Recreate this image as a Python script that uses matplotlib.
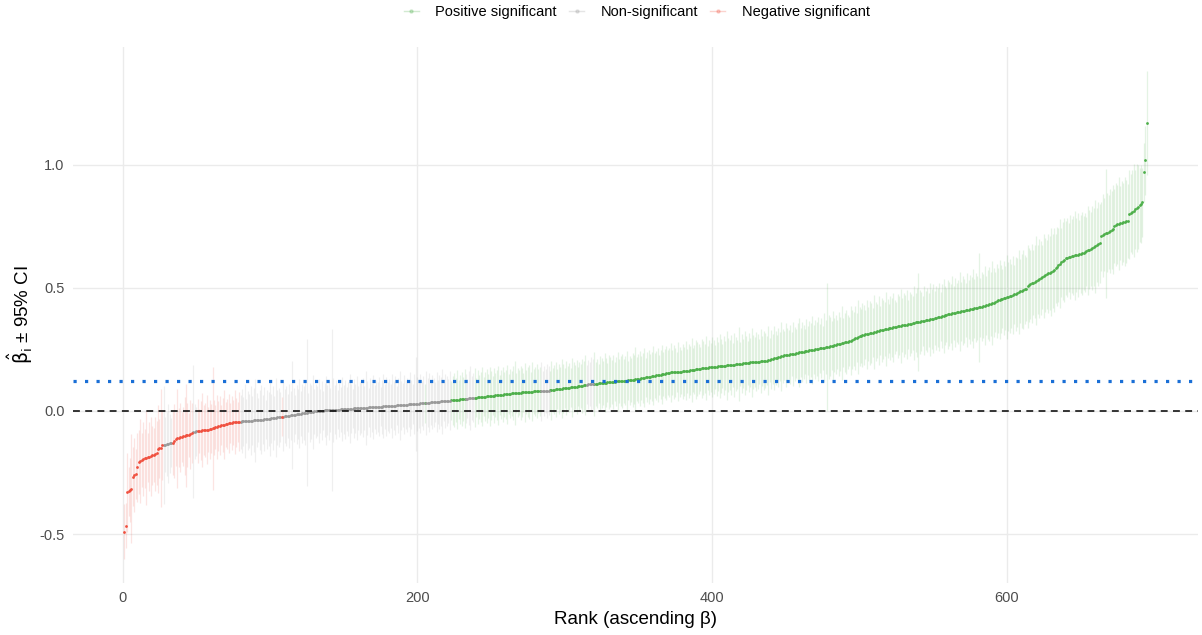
import matplotlib
matplotlib.use("Agg")
import matplotlib.pyplot as plt
from matplotlib.lines import Line2D
import numpy as np

plt.rcParams['font.family'] = ['Liberation Sans', 'DejaVu Sans']

# estimated coefficient per feature, already sorted ascending (rank 1..695)
beta = [
    -0.490, -0.466, -0.330, -0.326, -0.322, -0.316, -0.268, -0.262, -0.256, -0.230,
    -0.206, -0.203, -0.200, -0.196, -0.193, -0.191, -0.188, -0.186, -0.184, -0.181,
    -0.178, -0.176, -0.172, -0.155, -0.152, -0.150, -0.140, -0.138, -0.137, -0.135,
    -0.133, -0.131, -0.130, -0.129, -0.122, -0.115, -0.112, -0.110, -0.108, -0.106,
    -0.104, -0.102, -0.100, -0.099, -0.097, -0.095, -0.090, -0.085, -0.084, -0.083,
    -0.082, -0.081, -0.080, -0.079, -0.078, -0.077, -0.076, -0.076, -0.075, -0.073,
    -0.070, -0.068, -0.066, -0.064, -0.062, -0.060, -0.058, -0.057, -0.056, -0.055,
    -0.053, -0.051, -0.049, -0.048, -0.047, -0.047, -0.046, -0.045, -0.045, -0.044,
    -0.043, -0.043, -0.042, -0.042, -0.041, -0.041, -0.040, -0.040, -0.039, -0.039,
    -0.038, -0.038, -0.037, -0.037, -0.036, -0.035, -0.035, -0.034, -0.033, -0.032,
    -0.031, -0.030, -0.029, -0.028, -0.027, -0.026, -0.025, -0.024, -0.023, -0.022,
    -0.021, -0.020, -0.019, -0.018, -0.017, -0.016, -0.015, -0.014, -0.013, -0.012,
    -0.011, -0.010, -0.009, -0.008, -0.007, -0.006, -0.005, -0.004, -0.003, -0.002,
    -0.002, -0.001, 0.000, 0.000, 0.001, 0.001, 0.002, 0.002, 0.003, 0.003,
    0.003, 0.004, 0.004, 0.004, 0.005, 0.005, 0.005, 0.006, 0.006, 0.006,
    0.007, 0.007, 0.008, 0.008, 0.009, 0.009, 0.010, 0.010, 0.010, 0.011,
    0.011, 0.012, 0.012, 0.012, 0.013, 0.013, 0.014, 0.014, 0.015, 0.015,
    0.015, 0.016, 0.016, 0.017, 0.017, 0.017, 0.018, 0.018, 0.019, 0.019,
    0.019, 0.020, 0.020, 0.021, 0.021, 0.022, 0.022, 0.023, 0.023, 0.024,
    0.024, 0.025, 0.025, 0.026, 0.026, 0.027, 0.027, 0.028, 0.028, 0.029,
    0.029, 0.030, 0.030, 0.031, 0.031, 0.032, 0.033, 0.033, 0.034, 0.035,
    0.035, 0.036, 0.036, 0.037, 0.037, 0.038, 0.038, 0.039, 0.039, 0.040,
    0.040, 0.041, 0.042, 0.043, 0.044, 0.045, 0.046, 0.046, 0.047, 0.048,
    0.048, 0.049, 0.050, 0.050, 0.051, 0.052, 0.052, 0.053, 0.054, 0.054,
    0.055, 0.056, 0.056, 0.057, 0.058, 0.058, 0.059, 0.060, 0.060, 0.061,
    0.062, 0.062, 0.063, 0.064, 0.064, 0.065, 0.066, 0.066, 0.067, 0.067,
    0.068, 0.069, 0.070, 0.071, 0.072, 0.072, 0.073, 0.073, 0.074, 0.074,
    0.075, 0.075, 0.076, 0.076, 0.077, 0.077, 0.078, 0.078, 0.079, 0.079,
    0.079, 0.080, 0.080, 0.080, 0.081, 0.081, 0.081, 0.082, 0.082, 0.083,
    0.084, 0.085, 0.086, 0.087, 0.088, 0.089, 0.090, 0.090, 0.091, 0.092,
    0.093, 0.094, 0.094, 0.095, 0.096, 0.097, 0.097, 0.098, 0.099, 0.099,
    0.100, 0.102, 0.104, 0.105, 0.106, 0.107, 0.108, 0.108, 0.109, 0.110,
    0.110, 0.111, 0.112, 0.112, 0.113, 0.114, 0.114, 0.115, 0.116, 0.116,
    0.117, 0.118, 0.118, 0.119, 0.120, 0.120, 0.121, 0.121, 0.122, 0.122,
    0.123, 0.123, 0.124, 0.124, 0.125, 0.126, 0.127, 0.128, 0.129, 0.130,
    0.131, 0.132, 0.133, 0.135, 0.136, 0.137, 0.138, 0.139, 0.140, 0.142,
    0.143, 0.144, 0.145, 0.146, 0.147, 0.149, 0.150, 0.151, 0.153, 0.155,
    0.155, 0.156, 0.156, 0.157, 0.157, 0.158, 0.158, 0.158, 0.159, 0.160,
    0.161, 0.162, 0.162, 0.163, 0.164, 0.165, 0.166, 0.167, 0.168, 0.169,
    0.170, 0.171, 0.172, 0.173, 0.173, 0.174, 0.175, 0.176, 0.177, 0.178,
    0.179, 0.179, 0.180, 0.181, 0.181, 0.182, 0.183, 0.183, 0.184, 0.185,
    0.185, 0.186, 0.186, 0.187, 0.188, 0.189, 0.189, 0.190, 0.191, 0.192,
    0.193, 0.193, 0.194, 0.195, 0.196, 0.197, 0.197, 0.198, 0.198, 0.199,
    0.200, 0.200, 0.201, 0.202, 0.203, 0.204, 0.204, 0.205, 0.207, 0.209,
    0.211, 0.213, 0.214, 0.216, 0.218, 0.220, 0.222, 0.223, 0.225, 0.226,
    0.227, 0.228, 0.229, 0.230, 0.231, 0.232, 0.234, 0.235, 0.237, 0.238,
    0.239, 0.240, 0.241, 0.243, 0.244, 0.245, 0.246, 0.247, 0.249, 0.250,
    0.251, 0.253, 0.254, 0.255, 0.256, 0.257, 0.259, 0.260, 0.261, 0.263,
    0.264, 0.265, 0.267, 0.268, 0.270, 0.271, 0.273, 0.275, 0.276, 0.278,
    0.279, 0.281, 0.282, 0.285, 0.288, 0.291, 0.294, 0.297, 0.300, 0.303,
    0.305, 0.307, 0.308, 0.310, 0.311, 0.313, 0.315, 0.316, 0.318, 0.320,
    0.321, 0.323, 0.325, 0.327, 0.328, 0.330, 0.331, 0.333, 0.334, 0.335,
    0.337, 0.338, 0.339, 0.340, 0.341, 0.343, 0.345, 0.346, 0.347, 0.348,
    0.349, 0.350, 0.351, 0.353, 0.354, 0.355, 0.357, 0.359, 0.360, 0.361,
    0.362, 0.364, 0.365, 0.366, 0.368, 0.369, 0.370, 0.371, 0.373, 0.374,
    0.376, 0.377, 0.379, 0.381, 0.383, 0.385, 0.386, 0.388, 0.390, 0.392,
    0.394, 0.395, 0.396, 0.398, 0.399, 0.400, 0.401, 0.403, 0.404, 0.406,
    0.407, 0.408, 0.409, 0.411, 0.412, 0.413, 0.414, 0.416, 0.418, 0.419,
    0.420, 0.421, 0.423, 0.424, 0.426, 0.428, 0.430, 0.432, 0.435, 0.437,
    0.439, 0.442, 0.445, 0.448, 0.452, 0.454, 0.456, 0.458, 0.459, 0.461,
    0.463, 0.465, 0.467, 0.470, 0.473, 0.476, 0.479, 0.482, 0.485, 0.488,
    0.491, 0.493, 0.496, 0.505, 0.510, 0.514, 0.518, 0.521, 0.525, 0.529,
    0.533, 0.536, 0.540, 0.544, 0.547, 0.551, 0.555, 0.558, 0.561, 0.564,
    0.568, 0.573, 0.579, 0.585, 0.591, 0.597, 0.603, 0.608, 0.613, 0.619,
    0.621, 0.623, 0.625, 0.627, 0.629, 0.631, 0.633, 0.634, 0.636, 0.637,
    0.639, 0.641, 0.644, 0.648, 0.651, 0.655, 0.658, 0.662, 0.665, 0.668,
    0.672, 0.676, 0.680, 0.708, 0.712, 0.716, 0.720, 0.724, 0.727, 0.731,
    0.734, 0.737, 0.752, 0.756, 0.758, 0.760, 0.762, 0.764, 0.766, 0.768,
    0.769, 0.771, 0.798, 0.803, 0.808, 0.813, 0.818, 0.823, 0.828, 0.834,
    0.840, 0.846, 0.968, 1.018, 1.168,
]

# half width of the 95% CI for each rank
half_ci = [
    0.11, 0.09, 0.16, 0.10, 0.13, 0.22, 0.12, 0.15, 0.10, 0.14,
    0.13, 0.17, 0.11, 0.15, 0.12, 0.19, 0.10, 0.14, 0.16, 0.12,
    0.11, 0.15, 0.13, 0.18, 0.12, 0.24, 0.14, 0.24, 0.11, 0.13,
    0.16, 0.12, 0.10, 0.13, 0.15, 0.11, 0.20, 0.12, 0.14, 0.10,
    0.12, 0.16, 0.21, 0.13, 0.09, 0.14, 0.12, 0.27, 0.11, 0.10,
    0.13, 0.09, 0.12, 0.15, 0.10, 0.11, 0.14, 0.09, 0.12, 0.10,
    0.25, 0.11, 0.09, 0.13, 0.10, 0.12, 0.08, 0.11, 0.14, 0.09,
    0.10, 0.12, 0.08, 0.11, 0.09, 0.13, 0.10, 0.08, 0.12, 0.11,
    0.13, 0.10, 0.15, 0.09, 0.12, 0.11, 0.14, 0.10, 0.13, 0.17,
    0.11, 0.09, 0.12, 0.14, 0.10, 0.13, 0.08, 0.12, 0.11, 0.15,
    0.10, 0.13, 0.09, 0.16, 0.11, 0.12, 0.10, 0.08, 0.14, 0.11,
    0.12, 0.09, 0.13, 0.10, 0.22, 0.11, 0.08, 0.12, 0.10, 0.14,
    0.09, 0.12, 0.11, 0.13, 0.30, 0.08, 0.12, 0.11, 0.15, 0.09,
    0.11, 0.10, 0.13, 0.09, 0.12, 0.08, 0.11, 0.14, 0.10, 0.12,
    0.09, 0.33, 0.13, 0.10, 0.12, 0.08, 0.11, 0.09, 0.13, 0.10,
    0.12, 0.09, 0.11, 0.14, 0.10, 0.08, 0.12, 0.10, 0.13, 0.09,
    0.11, 0.10, 0.12, 0.09, 0.15, 0.11, 0.08, 0.12, 0.10, 0.13,
    0.09, 0.11, 0.10, 0.12, 0.08, 0.11, 0.13, 0.09, 0.12, 0.10,
    0.11, 0.09, 0.13, 0.10, 0.12, 0.08, 0.11, 0.14, 0.10, 0.09,
    0.12, 0.10, 0.11, 0.09, 0.13, 0.10, 0.08, 0.12, 0.19, 0.11,
    0.10, 0.12, 0.09, 0.11, 0.08, 0.13, 0.10, 0.12, 0.09, 0.11,
    0.10, 0.08, 0.12, 0.09, 0.11, 0.10, 0.13, 0.08, 0.11, 0.10,
    0.09, 0.12, 0.08, 0.10, 0.11, 0.09, 0.12, 0.08, 0.10, 0.11,
    0.09, 0.12, 0.10, 0.08, 0.11, 0.13, 0.09, 0.10, 0.12, 0.08,
    0.11, 0.09, 0.10, 0.12, 0.08, 0.10, 0.11, 0.09, 0.12, 0.10,
    0.08, 0.11, 0.09, 0.10, 0.12, 0.08, 0.10, 0.11, 0.09, 0.10,
    0.12, 0.08, 0.10, 0.09, 0.11, 0.13, 0.08, 0.10, 0.09, 0.11,
    0.10, 0.08, 0.12, 0.09, 0.10, 0.11, 0.08, 0.12, 0.09, 0.10,
    0.11, 0.09, 0.10, 0.12, 0.08, 0.10, 0.09, 0.11, 0.10, 0.08,
    0.12, 0.09, 0.10, 0.11, 0.08, 0.10, 0.09, 0.12, 0.10, 0.08,
    0.11, 0.09, 0.10, 0.08, 0.12, 0.10, 0.09, 0.11, 0.08, 0.10,
    0.09, 0.11, 0.10, 0.12, 0.08, 0.10, 0.09, 0.11, 0.10, 0.13,
    0.09, 0.10, 0.08, 0.11, 0.10, 0.09, 0.12, 0.10, 0.08, 0.11,
    0.10, 0.09, 0.11, 0.08, 0.10, 0.12, 0.09, 0.10, 0.11, 0.09,
    0.10, 0.12, 0.08, 0.10, 0.09, 0.11, 0.10, 0.13, 0.09, 0.10,
    0.11, 0.09, 0.10, 0.12, 0.08, 0.10, 0.11, 0.09, 0.10, 0.12,
    0.09, 0.10, 0.11, 0.08, 0.10, 0.12, 0.09, 0.10, 0.11, 0.09,
    0.10, 0.12, 0.09, 0.11, 0.10, 0.08, 0.12, 0.10, 0.09, 0.11,
    0.10, 0.12, 0.09, 0.11, 0.10, 0.13, 0.09, 0.10, 0.12, 0.11,
    0.10, 0.09, 0.12, 0.11, 0.10, 0.13, 0.09, 0.11, 0.10, 0.12,
    0.11, 0.09, 0.12, 0.10, 0.13, 0.11, 0.09, 0.12, 0.10, 0.14,
    0.11, 0.10, 0.12, 0.09, 0.13, 0.11, 0.10, 0.15, 0.09, 0.12,
    0.10, 0.13, 0.11, 0.09, 0.12, 0.10, 0.14, 0.11, 0.10, 0.12,
    0.11, 0.09, 0.13, 0.10, 0.12, 0.11, 0.10, 0.14, 0.09, 0.12,
    0.10, 0.13, 0.11, 0.09, 0.12, 0.10, 0.14, 0.11, 0.10, 0.13,
    0.11, 0.10, 0.12, 0.09, 0.13, 0.11, 0.10, 0.12, 0.14, 0.10,
    0.12, 0.11, 0.09, 0.13, 0.10, 0.12, 0.11, 0.14, 0.10, 0.12,
    0.11, 0.13, 0.10, 0.12, 0.09, 0.14, 0.11, 0.26, 0.13, 0.12,
    0.10, 0.14, 0.11, 0.12, 0.10, 0.13, 0.11, 0.15, 0.10, 0.12,
    0.13, 0.11, 0.10, 0.14, 0.12, 0.11, 0.13, 0.10, 0.15, 0.12,
    0.11, 0.13, 0.12, 0.10, 0.14, 0.11, 0.13, 0.12, 0.10, 0.15,
    0.12, 0.11, 0.14, 0.10, 0.13, 0.12, 0.11, 0.15, 0.12, 0.10,
    0.13, 0.12, 0.14, 0.11, 0.10, 0.13, 0.12, 0.15, 0.11, 0.13,
    0.12, 0.14, 0.10, 0.13, 0.12, 0.11, 0.15, 0.12, 0.14, 0.20,
    0.13, 0.12, 0.10, 0.14, 0.12, 0.13, 0.11, 0.15, 0.12, 0.14,
    0.11, 0.13, 0.12, 0.14, 0.10, 0.13, 0.15, 0.12, 0.11, 0.14,
    0.13, 0.12, 0.15, 0.11, 0.14, 0.12, 0.13, 0.16, 0.12, 0.14,
    0.13, 0.11, 0.15, 0.12, 0.14, 0.13, 0.16, 0.12, 0.14, 0.13,
    0.22, 0.12, 0.14, 0.13, 0.16, 0.12, 0.14, 0.15, 0.13, 0.17,
    0.14, 0.12, 0.15, 0.13, 0.16, 0.14, 0.12, 0.15, 0.13, 0.17,
    0.14, 0.15, 0.13, 0.16, 0.12, 0.15, 0.14, 0.17, 0.13, 0.15,
    0.16, 0.14, 0.13, 0.17, 0.15, 0.14, 0.16, 0.13, 0.15, 0.18,
    0.14, 0.16, 0.15, 0.13, 0.17, 0.15, 0.14, 0.16, 0.15, 0.18,
    0.15, 0.17, 0.14, 0.16, 0.15, 0.18, 0.14, 0.16, 0.17, 0.15,
    0.16, 0.14, 0.17, 0.15, 0.16, 0.18, 0.15, 0.17, 0.14, 0.16,
    0.17, 0.15, 0.16, 0.14, 0.18, 0.16, 0.15, 0.17, 0.16, 0.19,
    0.15, 0.17, 0.16, 0.14, 0.17, 0.15, 0.26, 0.16, 0.15, 0.17,
    0.16, 0.18, 0.15, 0.17, 0.16, 0.19, 0.15, 0.17, 0.16, 0.18,
    0.17, 0.15, 0.18, 0.16, 0.17, 0.19, 0.16, 0.18, 0.17, 0.15,
    0.16, 0.14, 0.12, 0.14, 0.21,
]

# significance class in rank order, as (class, run length)
group_runs = [
    ("neg", 27), ("ns", 6), ("neg", 14), ("ns", 3), ("neg", 29),
    ("ns", 28), ("neg", 1), ("ns", 96), ("pos", 1), ("ns", 17),
    ("pos", 10), ("ns", 6), ("pos", 45), ("ns", 6), ("pos", 25),
    ("ns", 5), ("pos", 376),
]

mean_beta = 0.122  # blue dotted reference line

group_order = ["pos", "ns", "neg"]
group_labels = {"pos": "Positive significant", "ns": "Non-significant",
                "neg": "Negative significant"}
group_colors = {"pos": "#4DAF4A", "ns": "#999999", "neg": "#F0503F"}

beta = np.array(beta)
half_ci = np.array(half_ci)
rank = np.arange(1, len(beta) + 1)
groups = np.repeat([g for g, n in group_runs], [n for g, n in group_runs])

fig = plt.figure(figsize=(12.02, 6.35), dpi=100)
ax = fig.add_axes([0.0607, 0.0819, 0.936, 0.844])

for g in group_order:
    m = groups == g
    ax.vlines(rank[m], beta[m] - half_ci[m], beta[m] + half_ci[m],
              color=group_colors[g], alpha=0.15, lw=0.9, zorder=2)
for g in group_order:
    m = groups == g
    ax.plot(rank[m], beta[m], 'o', ms=2.0, mew=0, color=group_colors[g], zorder=3)

ax.axhline(0, color='black', lw=1.1, ls=(0, (4.5, 3.5)), zorder=4)
ax.axhline(mean_beta, color='#1A6FD6', lw=2.3, ls=(0, (1, 2.6)),
           dash_capstyle='butt', zorder=4)

ax.margins(x=0.05, y=0.05)
ax.set_xticks([0, 200, 400, 600])
ax.set_yticks([-0.5, 0.0, 0.5, 1.0])
ax.set_yticklabels(['-0.5', '0.0', '0.5', '1.0'])
ax.grid(True, color='#EBEBEB', lw=1.0, zorder=0)
ax.set_axisbelow(True)
for s in ax.spines.values():
    s.set_visible(False)
ax.tick_params(length=0, labelsize=10.5, labelcolor='#4D4D4D', pad=6)

ax.set_xlabel('Rank (ascending β)', fontsize=13.5, labelpad=4)
ax.set_ylabel(r'$\hat{\mathrm{\beta}}_{\mathrm{i}}$ ± 95% CI', fontsize=13.5, labelpad=3)

handles = [Line2D([0], [0], color=group_colors[g], lw=1.0, alpha=0.25,
                  marker='o', ms=2.2, mfc=group_colors[g], mec=group_colors[g])
           for g in group_order]
fig.legend(handles, [group_labels[g] for g in group_order], loc='upper center',
           bbox_to_anchor=(0.5296, 1.013), ncol=3, frameon=False, fontsize=10.5,
           handlelength=1.05, handletextpad=1.1, columnspacing=0.85)

fig.savefig('out.png', dpi=100)
